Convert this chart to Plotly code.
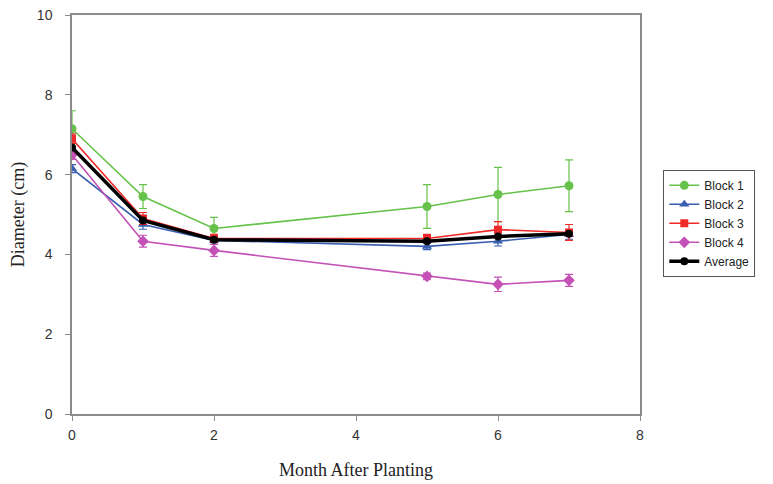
import plotly.graph_objects as go

months = [0, 1, 2, 5, 6, 7]
block1 = [7.15, 5.45, 4.65, 5.2, 5.5, 5.72]
block1_err = [0.45, 0.3, 0.28, 0.55, 0.68, 0.65]
block2 = [6.15, 4.75, 4.35, 4.2, 4.33, 4.5]
block2_err = [0.1, 0.12, 0.1, 0.08, 0.12, 0.12]
block3 = [6.9, 4.9, 4.4, 4.4, 4.62, 4.55]
block3_err = [0.12, 0.15, 0.1, 0.1, 0.2, 0.2]
block4 = [6.5, 4.33, 4.1, 3.45, 3.25, 3.35]
block4_err = [0.12, 0.15, 0.15, 0.08, 0.18, 0.15]
average = [6.68, 4.85, 4.37, 4.33, 4.45, 4.52]
average_err = [0.0, 0.0, 0.0, 0.0, 0.0, 0.0]

series = [
    ("Block 1", block1, block1_err, "#66c24a", "circle", 1.6, 9),
    ("Block 2", block2, block2_err, "#3a5fb0", "triangle-up", 1.6, 9),
    ("Block 3", block3, block3_err, "#ee2a2a", "square", 1.6, 8),
    ("Block 4", block4, block4_err, "#c452b6", "diamond", 1.6, 9),
    ("Average", average, average_err, "#000000", "circle", 3.5, 8),
]

fig = go.Figure()
for name, y, err, color, sym, lw, ms in series:
    fig.add_trace(go.Scatter(
        x=months, y=y, name=name, mode="lines+markers",
        line=dict(color=color, width=lw),
        marker=dict(color=color, symbol=sym, size=ms),
        error_y=dict(type="data", array=err, visible=any(e > 0 for e in err),
                     color=color, thickness=1.2, width=4),
    ))

axis_common = dict(
    showline=True, linecolor="#8c8c8c", linewidth=1.5, mirror=True,
    ticks="outside", ticklen=5, tickcolor="#8c8c8c", tickwidth=1,
    showgrid=False, zeroline=False, automargin=False,
    tickfont=dict(family="Liberation Sans, Arial", size=14, color="#333333"),
)

fig.update_layout(
    width=773, height=484,
    margin=dict(l=72, r=133, t=15, b=70),
    paper_bgcolor="white", plot_bgcolor="white",
    xaxis=dict(range=[0, 8], dtick=2, ticklabelstandoff=2,
               title=dict(text="Month After Planting",
               font=dict(family="Liberation Serif, Times New Roman", size=18, color="#222222"),
               standoff=22), **axis_common),
    yaxis=dict(range=[0, 10], dtick=2, ticklabelstandoff=10,
               title=dict(text="Diameter (cm)",
               font=dict(family="Liberation Serif, Times New Roman", size=18, color="#222222"),
               standoff=8), **axis_common),
    legend=dict(x=1.041, y=0.612, xanchor="left", yanchor="top",
                bordercolor="#555555", borderwidth=1,
                font=dict(family="Liberation Sans, Arial", size=12, color="#222222"),
                tracegroupgap=0),
    showlegend=True,
)

fig.write_html("out.html")
